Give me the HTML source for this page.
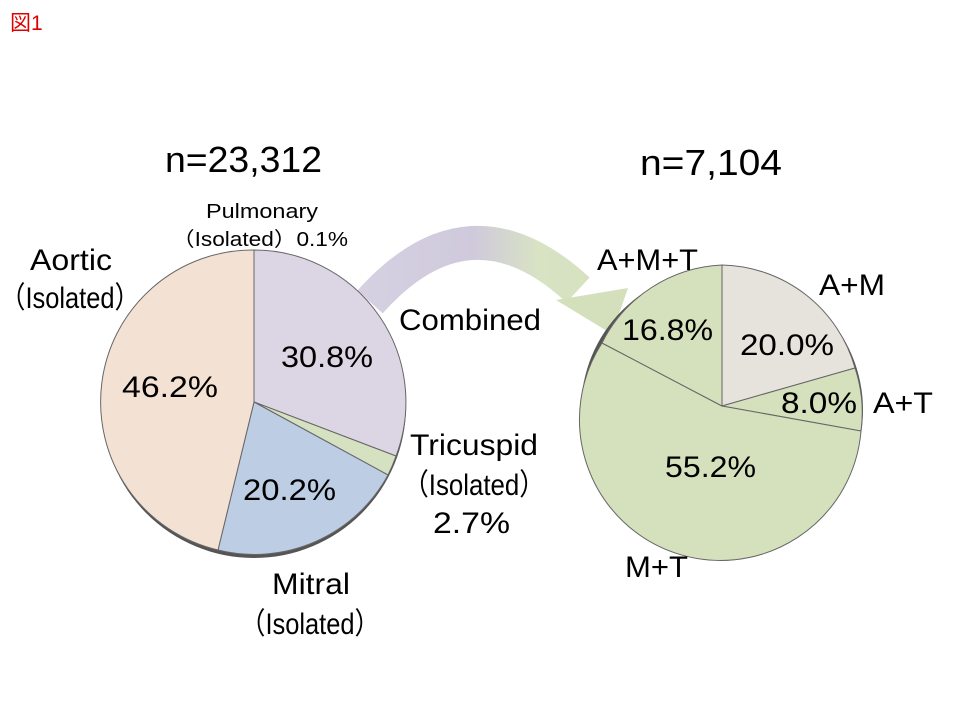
<!DOCTYPE html>
<html><head><meta charset="utf-8"><style>
html,body{margin:0;padding:0;background:#fff;}
svg{display:block;font-family:"Liberation Sans","Noto Sans CJK JP",sans-serif;}
</style></head><body>
<svg width="960" height="720" viewBox="0 0 960 720" xmlns="http://www.w3.org/2000/svg">
<defs>
<linearGradient id="arr" x1="350" y1="0" x2="620" y2="0" gradientUnits="userSpaceOnUse">
<stop offset="0" stop-color="#d6d2e2"/><stop offset="0.45" stop-color="#cfc9dc"/><stop offset="0.7" stop-color="#d8e3c4"/><stop offset="1" stop-color="#d4e0bc"/>
</linearGradient>
</defs>
<text x="10" y="30" font-size="21" fill="#e00000">図1</text>
<g lengthAdjust="spacingAndGlyphs">
<text x="165" y="172" font-size="36" textLength="157" lengthAdjust="spacingAndGlyphs">n=23,312</text>
<text x="640" y="175" font-size="36" textLength="142" lengthAdjust="spacingAndGlyphs">n=7,104</text>
</g>

<!-- arrow -->
<path d="M370 302 Q470 190 578 290" fill="none" stroke="url(#arr)" stroke-width="34"/>
<polygon points="556,300 628,288 612,334" fill="#d4e0bc"/>

<!-- left pie -->
<circle cx="254" cy="406" r="152" fill="#555"/>
<g stroke="#666" stroke-width="1">
<path d="M254 402 L254 250 A152 152 0 0 1 396 456 Z" fill="#dcd6e4"/>
<path d="M254 402 L396 456 A152 152 0 0 1 388 475 Z" fill="#d5e1c0"/>
<path d="M254 402 L388 475 A152 152 0 0 1 218 550 Z" fill="#bccde4"/>
<path d="M254 402 L218 550 A152 152 0 0 1 254 250 Z" fill="#f3e2d4"/>
</g>

<!-- right pie -->
<circle cx="722" cy="410" r="141" fill="#555"/>
<g stroke="#666" stroke-width="1">
<path d="M722 406 L722 265 A141 141 0 0 1 855 368 Z" fill="#e6e3dc"/>
<path d="M722 406 L855 368 A141 141 0 0 1 861 431 Z" fill="#d5e0bd"/>
<path d="M722 406 L861 431 A141 141 0 1 1 602 343 Z" fill="#d5e0bd"/>
<path d="M722 406 L602 343 A141 141 0 0 1 722 265 Z" fill="#d5e0bd"/>
</g>

<g font-size="30">
<text x="281" y="367" textLength="92" lengthAdjust="spacingAndGlyphs">30.8%</text>
<text x="122" y="397" textLength="96" lengthAdjust="spacingAndGlyphs">46.2%</text>
<text x="243" y="500" textLength="93" lengthAdjust="spacingAndGlyphs">20.2%</text>
<text x="30" y="270" textLength="82" lengthAdjust="spacingAndGlyphs">Aortic</text>
<text x="0" y="308" textLength="140" lengthAdjust="spacingAndGlyphs">（Isolated）</text>
<text x="399" y="330" textLength="142" lengthAdjust="spacingAndGlyphs">Combined</text>
<text x="410" y="455" textLength="128" lengthAdjust="spacingAndGlyphs">Tricuspid</text>
<text x="403" y="495" textLength="142" lengthAdjust="spacingAndGlyphs">（Isolated）</text>
<text x="433" y="533" textLength="77" lengthAdjust="spacingAndGlyphs">2.7%</text>
<text x="272" y="594" textLength="78" lengthAdjust="spacingAndGlyphs">Mitral</text>
<text x="240" y="634" textLength="140" lengthAdjust="spacingAndGlyphs">（Isolated）</text>
<text x="597" y="270" textLength="101" lengthAdjust="spacingAndGlyphs">A+M+T</text>
<text x="819" y="295" textLength="66" lengthAdjust="spacingAndGlyphs">A+M</text>
<text x="873" y="413" textLength="60" lengthAdjust="spacingAndGlyphs">A+T</text>
<text x="622" y="340" textLength="91" lengthAdjust="spacingAndGlyphs">16.8%</text>
<text x="740" y="355" textLength="94" lengthAdjust="spacingAndGlyphs">20.0%</text>
<text x="781" y="413" textLength="76" lengthAdjust="spacingAndGlyphs">8.0%</text>
<text x="665" y="477" textLength="91" lengthAdjust="spacingAndGlyphs">55.2%</text>
<text x="625" y="577" textLength="63" lengthAdjust="spacingAndGlyphs">M+T</text>
</g>
<text x="206" y="218" font-size="20" textLength="112" lengthAdjust="spacingAndGlyphs">Pulmonary</text>
<text x="172" y="246" font-size="20" textLength="176" lengthAdjust="spacingAndGlyphs">（Isolated）0.1%</text>
</svg>
</body></html>
